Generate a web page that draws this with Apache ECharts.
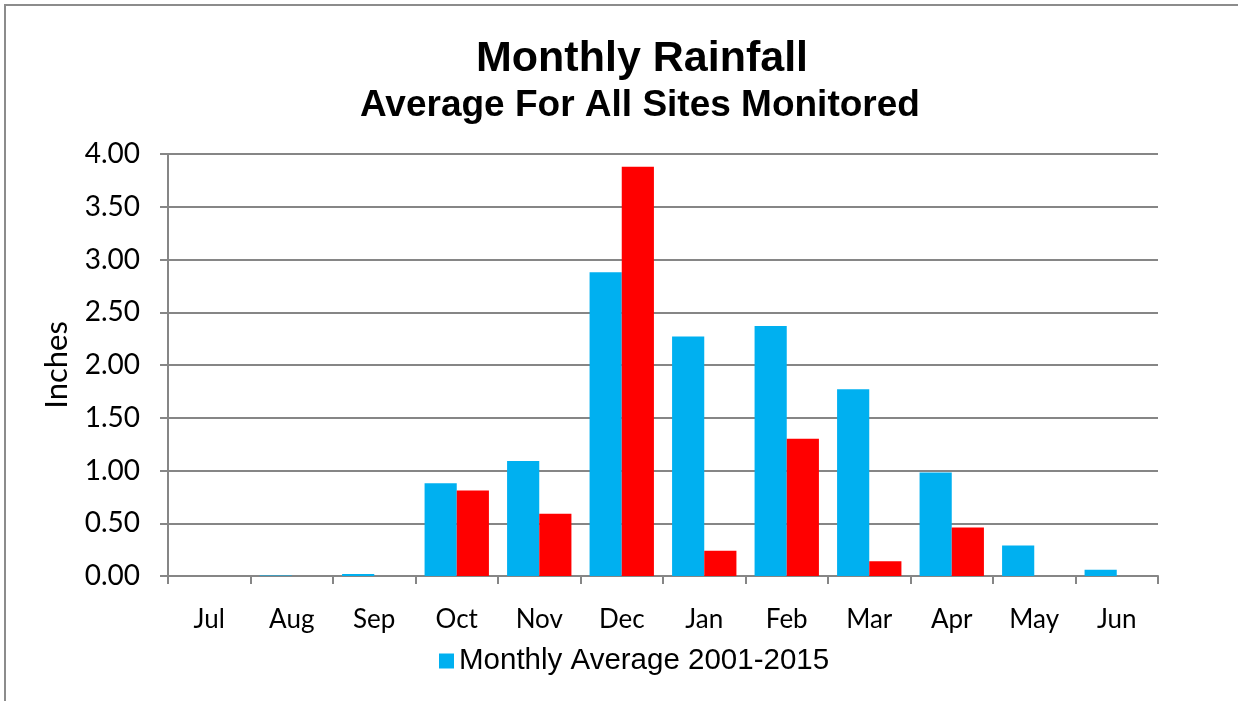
<!DOCTYPE html>
<html>
<head>
<meta charset="utf-8">
<script src="https://cdn.jsdelivr.net/npm/echarts@6/dist/echarts.min.js"></script>
<style>
  html, body { margin: 0; padding: 0; background: #fff; }
  #main { width: 1238px; height: 701px; }
</style>
</head>
<body>
<div id="main"></div>
<script>
var months = ['Jul', 'Aug', 'Sep', 'Oct', 'Nov', 'Dec', 'Jan', 'Feb', 'Mar', 'Apr', 'May', 'Jun'];
var avg2001_2015 = [0, 0.005, 0.02, 0.88, 1.09, 2.88, 2.27, 2.37, 1.77, 0.98, 0.29, 0.06];
var current = [0, 0, 0, 0.81, 0.59, 3.88, 0.24, 1.30, 0.14, 0.46, 0, 0];
var yTicks = [0, 0.5, 1, 1.5, 2, 2.5, 3, 3.5, 4];

var myChart = echarts.init(document.getElementById('main'));
var option = {
    backgroundColor: '#fff',
    animation: false,
    // outer frame like the spreadsheet chart area
    graphic: [{
        type: 'polyline',
        shape: { points: [[5, 701], [5, 5], [1238, 5]] },
        style: { stroke: '#8c8c8c', lineWidth: 2, fill: null }
    }],
    title: [
        {
            text: 'Monthly Rainfall',
            left: 471,
            top: 33,
            textStyle: { fontFamily: 'Liberation Sans', fontSize: 43, fontWeight: 'bold', color: '#000' }
        },
        {
            text: 'Average For All Sites Monitored',
            left: 355,
            top: 82,
            textStyle: { fontFamily: 'Liberation Sans', fontSize: 37, fontWeight: 'bold', color: '#000' }
        }
    ],
    legend: {
        data: ['Monthly Average 2001-2015'],
        left: 434,
        top: 641,
        icon: 'rect',
        itemWidth: 15,
        itemHeight: 15,
        textStyle: { fontFamily: 'Liberation Sans', fontSize: 29.5, color: '#000' }
    },
    grid: {
        left: 168,
        right: 80,
        top: 154,
        bottom: 125
    },
    xAxis: {
        type: 'category',
        data: months,
        axisLine: { lineStyle: { color: '#868686', width: 2 } },
        axisTick: { show: true, length: 8, lineStyle: { color: '#868686', width: 2 } },
        axisLabel: {
            margin: 31,
            fontFamily: 'Lato',
            fontSize: 26,
            color: '#000'
        },
        splitLine: { show: false }
    },
    yAxis: {
        type: 'value',
        min: 0,
        max: 4,
        interval: 0.5,
        name: 'Inches',
        nameLocation: 'middle',
        nameGap: 96,
        nameRotate: 90,
        nameTextStyle: { fontFamily: 'Lato', fontSize: 31, color: '#000' },
        axisLine: { show: true, lineStyle: { color: '#868686', width: 2 } },
        axisTick: { show: true, length: 8, lineStyle: { color: '#868686', width: 2 } },
        axisLabel: {
            margin: 28,
            fontFamily: 'Lato',
            fontSize: 28,
            color: '#000',
            formatter: function (v) { return v.toFixed(2); }
        },
        splitLine: { show: true, lineStyle: { color: '#868686', width: 2 } }
    },
    series: [
        {
            name: 'Monthly Average 2001-2015',
            type: 'bar',
            data: avg2001_2015,
            barGap: '0%',
            barCategoryGap: '22%',
            itemStyle: { color: '#00B0F0' }
        },
        {
            name: 'Current Year',
            type: 'bar',
            data: current,
            barGap: '0%',
            barCategoryGap: '22%',
            itemStyle: { color: '#FF0000' }
        }
    ]
};
myChart.setOption(option);
window.onresize = myChart.resize;
</script>
</body>
</html>
